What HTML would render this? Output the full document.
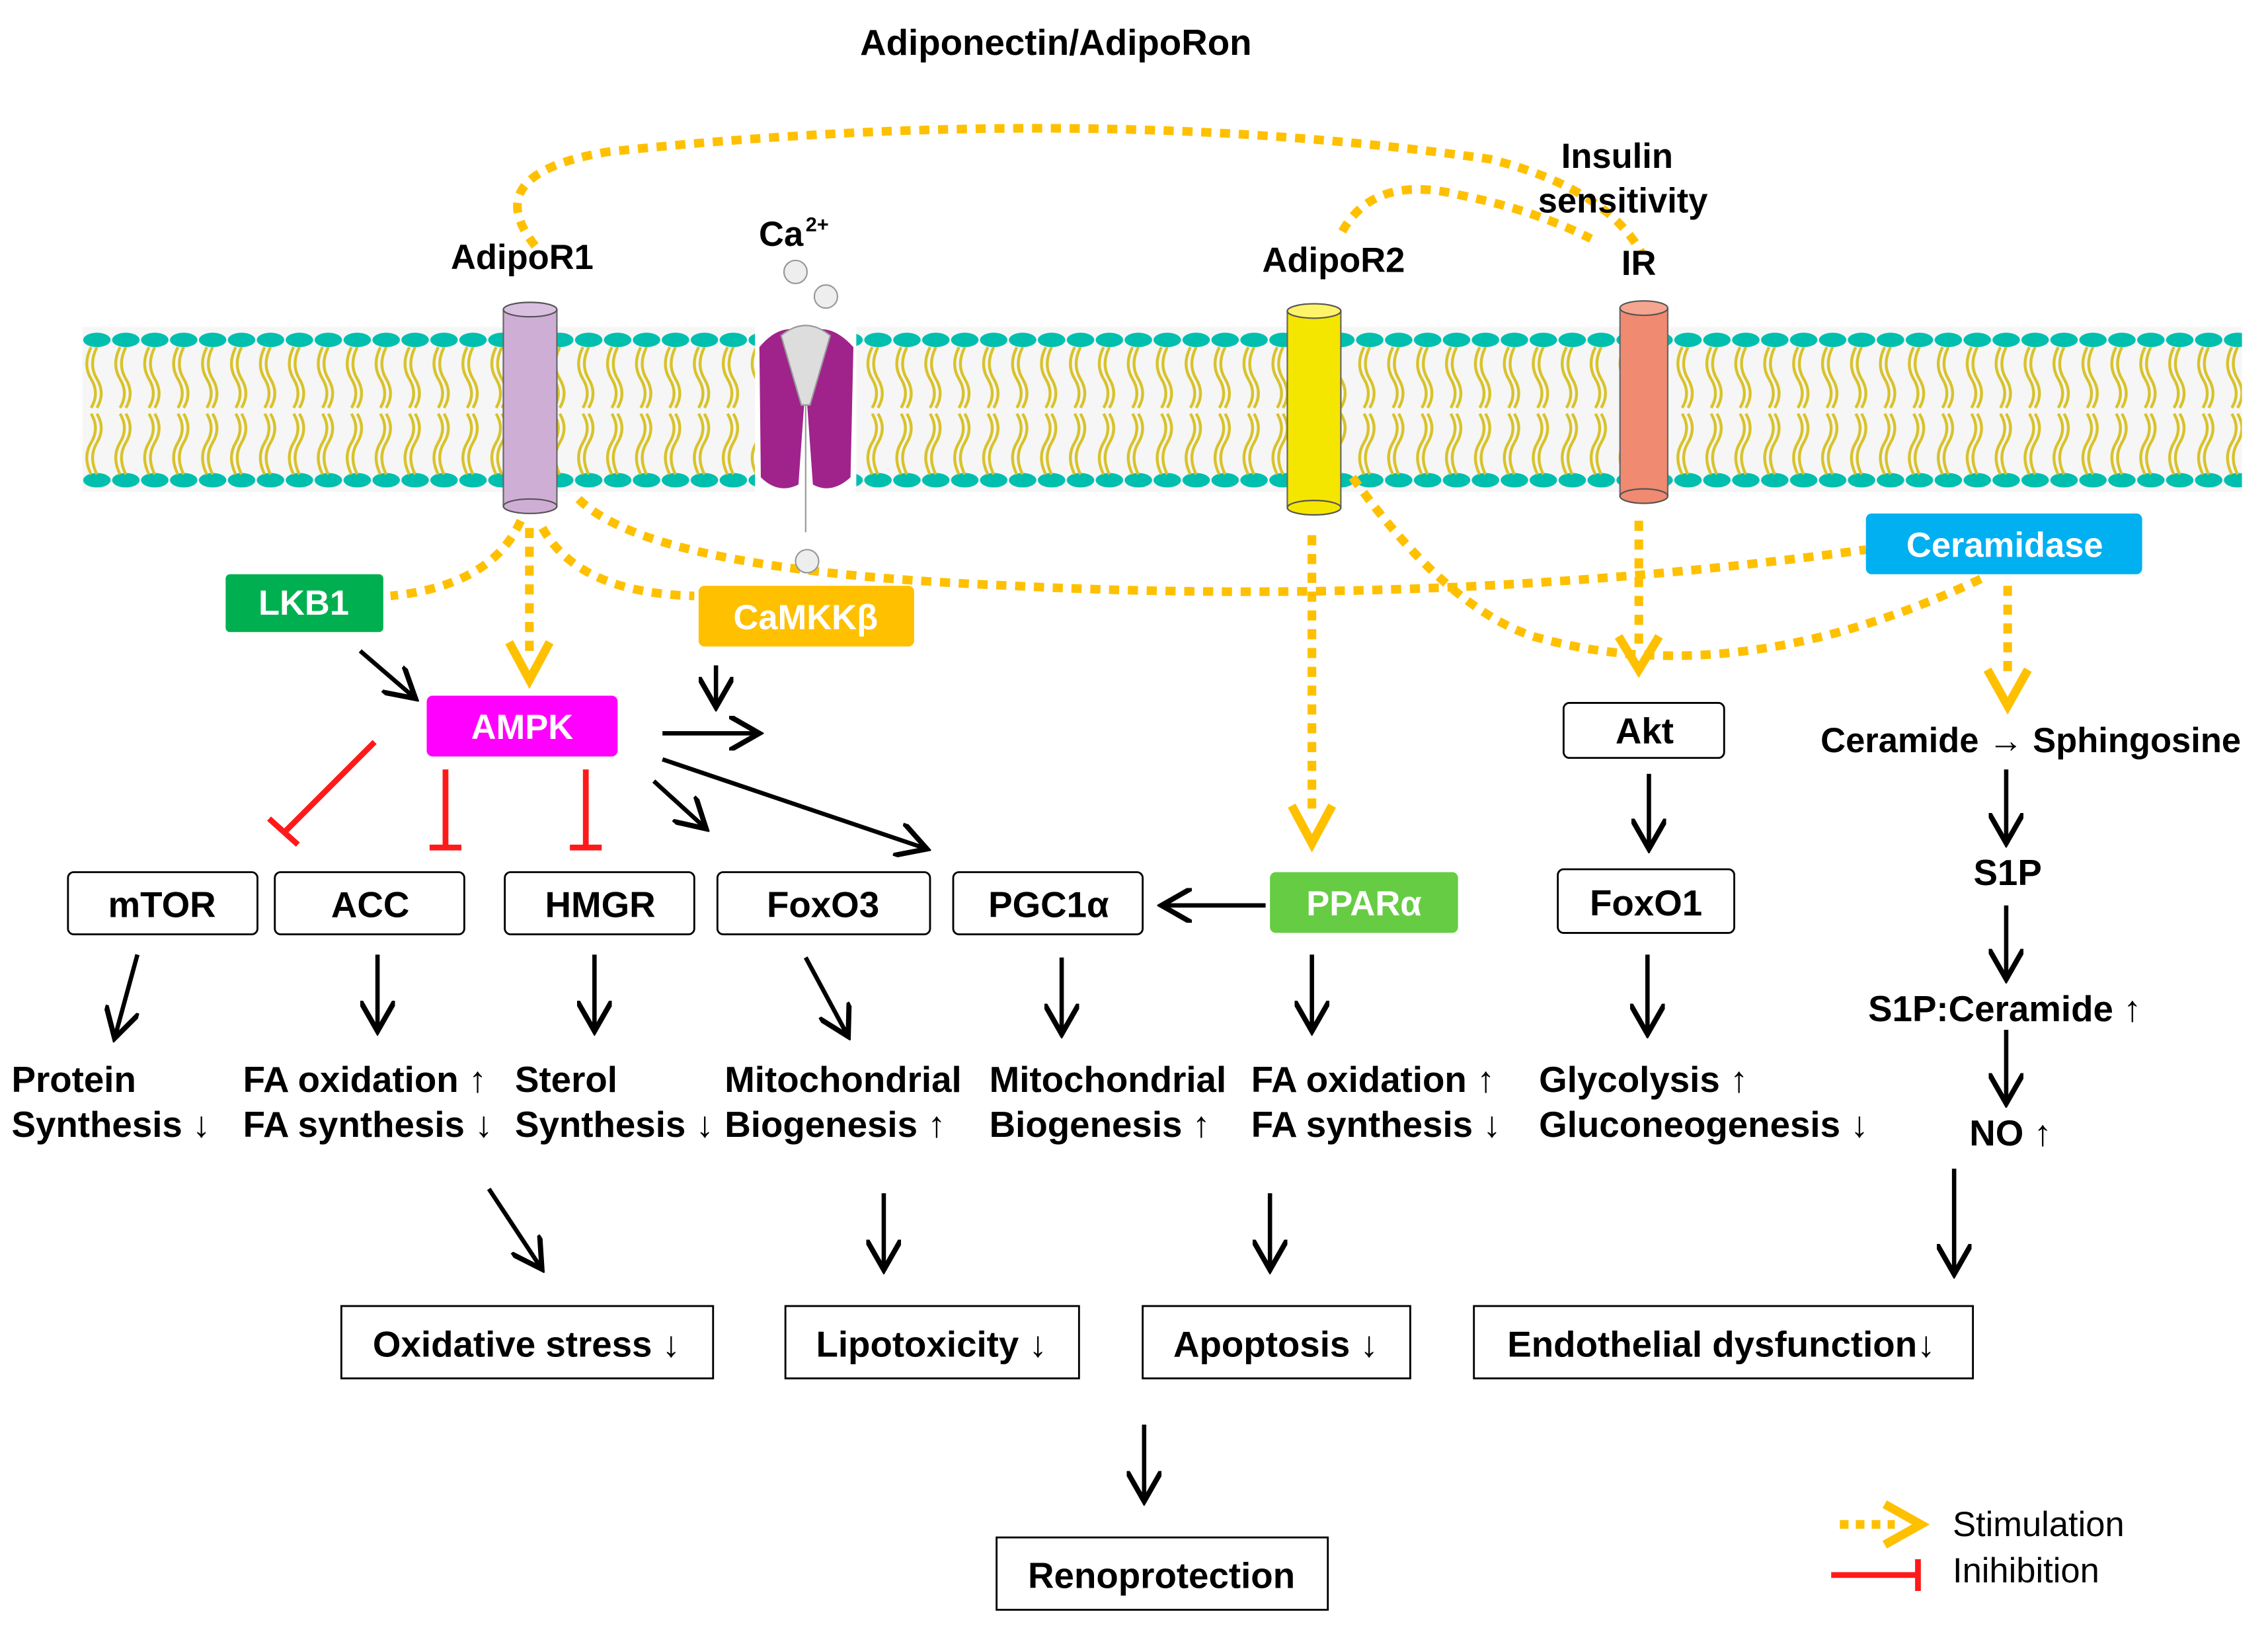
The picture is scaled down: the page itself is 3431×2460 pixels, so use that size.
<!DOCTYPE html>
<html><head><meta charset="utf-8"><style>
html,body{margin:0;padding:0;background:#fff;}
svg{display:block;}
text{font-family:"Liberation Sans",Arial,sans-serif;font-weight:bold;}
</style></head><body>
<svg width="3431" height="2460" viewBox="0 0 1568 1124.2" xmlns="http://www.w3.org/2000/svg">
<defs>
<pattern id="lip" x="57" y="226" width="20" height="114" patternUnits="userSpaceOnUse">
<ellipse cx="10" cy="9" rx="9.5" ry="5" fill="#00bfae"/>
<ellipse cx="10" cy="106" rx="9.5" ry="5" fill="#00bfae"/>
<path d="M6 14 q-6 12 0 22 q6 10 0 20 M10 14 q-6 12 0 22 q6 10 0 20 M6 60 q6 10 0 20 q-6 10 0 22 M10 60 q6 10 0 20 q-6 10 0 22" stroke="#d8c22a" stroke-width="2" fill="none"/>
</pattern>
<marker id="ah" markerWidth="8" markerHeight="8" refX="6" refY="4" orient="auto" markerUnits="strokeWidth"><path d="M0,0 L7,4 L0,8" fill="none" stroke="#000" stroke-width="1.2"/></marker>
</defs>

<text x="730" y="38" font-size="25" text-anchor="middle">Adiponectin/AdipoRon</text>

<rect x="57" y="226" width="1493" height="114" fill="#f6f6f6"/>
<rect x="57" y="226" width="1493" height="114" fill="url(#lip)"/>

<g stroke="#ffc000" stroke-width="6" stroke-dasharray="7 6" fill="none">
<path d="M370 170 Q330 120 420 105 Q750 70 1030 110 Q1110 130 1135 175"/>
<path d="M928 160 Q950 120 1010 135 Q1060 145 1100 165"/>
<path d="M360 360 Q340 405 270 412"/>
<path d="M366 365 L366 450"/>
<path d="M375 365 Q400 410 480 412"/>
<path d="M400 345 Q450 395 700 405 Q1000 420 1290 380"/>
<path d="M907 370 L907 565"/>
<path d="M935 330 Q1000 420 1060 440 Q1200 480 1370 400"/>
<path d="M1133 360 L1133 450"/>
<path d="M1388 405 L1388 470"/>
</g>
<g stroke="#ffc000" stroke-width="6" fill="none">
<path d="M352 444 L366 470 L380 444"/>
<path d="M893 557 L907 583 L921 557"/>
<path d="M1119 440 L1133 463 L1147 440"/>
<path d="M1374 463 L1388 488 L1402 463"/>
</g>

<text x="361" y="186" font-size="24" text-anchor="middle">AdipoR1</text>
<rect x="348" y="214" width="37" height="136" fill="#cfaed6" stroke="#666" stroke-width="1"/>
<ellipse cx="366.5" cy="214" rx="18.5" ry="5" fill="#d9bfe0" stroke="#555"/>
<ellipse cx="366.5" cy="350" rx="18.5" ry="5" fill="#cfaed6" stroke="#555"/>
<text x="540" y="170" font-size="24" text-anchor="middle">Ca</text><text x="557" y="160" font-size="14">2+</text>
<circle cx="550" cy="188" r="8" fill="#eee" stroke="#999"/>
<circle cx="571" cy="205" r="8" fill="#eee" stroke="#999"/>
<circle cx="558" cy="388" r="8" fill="#eee" stroke="#999"/>
<rect x="522" y="226" width="70" height="114" fill="#fff"/>
<path d="M525 240 Q540 222 557 230 Q574 222 590 240 L588 330 Q575 342 562 335 L557 265 L552 335 Q538 342 526 330 Z" fill="#a0238c"/>
<path d="M540 232 Q557 218 574 232 L560 280 L554 280 Z" fill="#ddd" stroke="#999"/>
<line x1="557" y1="280" x2="557" y2="368" stroke="#999" stroke-width="1"/>
<text x="922" y="188" font-size="24" text-anchor="middle">AdipoR2</text>
<rect x="890" y="215" width="37" height="136" fill="#f5e600" stroke="#666"/>
<ellipse cx="908.5" cy="215" rx="18.5" ry="5" fill="#fff36a" stroke="#555"/>
<ellipse cx="908.5" cy="351" rx="18.5" ry="5" fill="#f5e600" stroke="#555"/>
<text x="1118" y="116" font-size="24" text-anchor="middle">Insulin</text>
<text x="1122" y="147" font-size="24" text-anchor="middle">sensitivity</text>
<text x="1133" y="190" font-size="24" text-anchor="middle">IR</text>
<rect x="1120" y="213" width="33" height="130" fill="#f08a70" stroke="#666"/>
<ellipse cx="1136.5" cy="213" rx="16.5" ry="5" fill="#f5a590" stroke="#555"/>
<ellipse cx="1136.5" cy="343" rx="16.5" ry="5" fill="#f08a70" stroke="#555"/>

<g font-size="24" fill="#fff" text-anchor="middle">
<rect x="1290" y="355" width="191" height="42" rx="4" fill="#00b0f0"/><text x="1386" y="385">Ceramidase</text>
<rect x="156" y="397" width="109" height="40" rx="3" fill="#00b050"/><text x="210" y="425">LKB1</text>
<rect x="483" y="405" width="149" height="42" rx="4" fill="#ffc000"/><text x="557" y="435">CaMKKβ</text>
<rect x="295" y="481" width="132" height="42" rx="4" fill="#ff00ff"/><text x="361" y="511">AMPK</text>
<rect x="878" y="603" width="130" height="42" rx="4" fill="#66cc44"/><text x="943" y="633">PPARα</text>
</g>

<g fill="#fff" stroke="#000" stroke-width="1.3">
<rect x="47" y="603" width="131" height="43" rx="4"/>
<rect x="190" y="603" width="131" height="43" rx="4"/>
<rect x="349" y="603" width="131" height="43" rx="4"/>
<rect x="496" y="603" width="147" height="43" rx="4"/>
<rect x="659" y="603" width="131" height="43" rx="4"/>
<rect x="1081" y="486" width="111" height="38" rx="4"/>
<rect x="1077" y="601" width="122" height="44" rx="4"/>
<rect x="236" y="903" width="257" height="50"/>
<rect x="543" y="903" width="203" height="50"/>
<rect x="790" y="903" width="185" height="50"/>
<rect x="1019" y="903" width="345" height="50"/>
<rect x="689" y="1063" width="229" height="50"/>
</g>
<g font-size="25" text-anchor="middle">
<text x="112" y="634">mTOR</text>
<text x="256" y="634">ACC</text>
<text x="415" y="634">HMGR</text>
<text x="569" y="634">FoxO3</text>
<text x="725" y="634">PGC1α</text>
<text x="1137" y="514">Akt</text>
<text x="1138" y="633">FoxO1</text>
<text x="364" y="938">Oxidative stress ↓</text>
<text x="644" y="938">Lipotoxicity ↓</text>
<text x="882" y="938">Apoptosis ↓</text>
<text x="1190" y="938">Endothelial dysfunction↓</text>
<text x="803" y="1098">Renoprotection</text>
<text x="1404" y="520" font-size="24">Ceramide → Sphingosine</text>
<text x="1388" y="612">S1P</text>
<text x="1386" y="706">S1P:Ceramide ↑</text>
<text x="1390" y="792">NO ↑</text>
</g>
<g font-size="25">
<text x="8" y="755">Protein</text><text x="8" y="786">Synthesis ↓</text>
<text x="168" y="755">FA oxidation ↑</text><text x="168" y="786">FA synthesis ↓</text>
<text x="356" y="755">Sterol</text><text x="356" y="786">Synthesis ↓</text>
<text x="501" y="755">Mitochondrial</text><text x="501" y="786">Biogenesis ↑</text>
<text x="684" y="755">Mitochondrial</text><text x="684" y="786">Biogenesis ↑</text>
<text x="865" y="755">FA oxidation ↑</text><text x="865" y="786">FA synthesis ↓</text>
<text x="1064" y="755">Glycolysis ↑</text><text x="1064" y="786">Gluconeogenesis ↓</text>
</g>

<g stroke="#000" stroke-width="3" fill="none" marker-end="url(#ah)">
<line x1="249" y1="450" x2="285" y2="481"/>
<line x1="495" y1="460" x2="495" y2="486"/>
<line x1="458" y1="507" x2="522" y2="507"/>
<line x1="452" y1="540" x2="486" y2="571"/>
<line x1="458" y1="525" x2="638" y2="586"/>
<line x1="875" y1="626" x2="806" y2="626"/>
<line x1="1140" y1="535" x2="1140" y2="584"/>
<line x1="1387" y1="532" x2="1387" y2="580"/>
<line x1="1387" y1="626" x2="1387" y2="674"/>
<line x1="1387" y1="712" x2="1387" y2="760"/>
<line x1="95" y1="660" x2="80" y2="715"/>
<line x1="261" y1="660" x2="261" y2="710"/>
<line x1="411" y1="660" x2="411" y2="710"/>
<line x1="557" y1="662" x2="585" y2="714"/>
<line x1="734" y1="662" x2="734" y2="712"/>
<line x1="907" y1="660" x2="907" y2="710"/>
<line x1="1139" y1="660" x2="1139" y2="712"/>
<line x1="338" y1="822" x2="373" y2="875"/>
<line x1="611" y1="825" x2="611" y2="875"/>
<line x1="878" y1="825" x2="878" y2="875"/>
<line x1="1351" y1="808" x2="1351" y2="878"/>
<line x1="791" y1="985" x2="791" y2="1035"/>
</g>

<g stroke="#ff1a1a" stroke-width="4" fill="none">
<line x1="259" y1="513" x2="197" y2="575"/><line x1="186" y1="566" x2="206" y2="584"/>
<line x1="308" y1="532" x2="308" y2="586"/><line x1="297" y1="586" x2="319" y2="586"/>
<line x1="405" y1="532" x2="405" y2="586"/><line x1="394" y1="586" x2="416" y2="586"/>
<line x1="1266" y1="1089" x2="1326" y2="1089"/><line x1="1326" y1="1078" x2="1326" y2="1100"/>
</g>
<path d="M1272 1054 L1310 1054" stroke="#ffc000" stroke-width="6" stroke-dasharray="6 5"/>
<path d="M1303 1040 L1328 1054 L1303 1068" stroke="#ffc000" stroke-width="6" fill="none"/>
<text x="1350" y="1062" font-size="24" style="font-weight:normal">Stimulation</text>
<text x="1350" y="1094" font-size="24" style="font-weight:normal">Inihibition</text>
</svg>
</body></html>
